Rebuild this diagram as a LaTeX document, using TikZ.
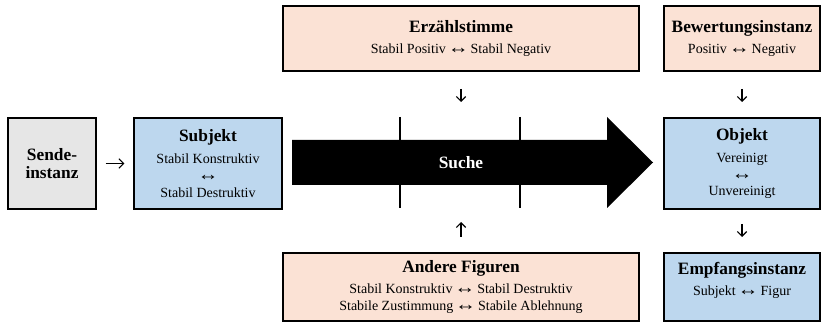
\documentclass[tikz,border=0pt]{standalone}
\usepackage{fontspec}
\setmainfont{Liberation Serif}
\usetikzlibrary{arrows.meta}

\definecolor{grau}{HTML}{E6E6E6}
\definecolor{blau}{HTML}{BDD7EE}
\definecolor{rosa}{HTML}{FBE2D5}

\newcommand{\titel}[1]{{\fontsize{13}{15}\selectfont\bfseries #1}}
\newcommand{\hin}{\kern-1.2pt\scalebox{1.5}[1.3]{↔}\kern-1.2pt}

\begin{document}
\begin{tikzpicture}[x=0.75pt,y=-0.75pt,
  kasten/.style={draw,line width=1.5pt,align=center,inner sep=2pt,
    font=\fontsize{10.5}{12.5}\selectfont},
  pfeil/.style={line width=0.8pt,-{Straight Barb[length=3.5pt,width=7pt]}}]

\useasboundingbox (0,0) rectangle (822,324);

% sende node
\node[kasten,fill=grau,minimum width=66pt,minimum height=68.25pt,
  font=\fontsize{13}{14}\selectfont\bfseries] (sende) at (52,163.5) {Sende-\\instanz};

% subjekt node
\node[kasten,fill=blau,minimum width=111pt,minimum height=68.25pt] (subj) at (208,163.5)
  {\titel{Subjekt}\\[4pt] Stabil Konstruktiv\\ \hin\\ Stabil Destruktiv};

% erzaehlstimme node
\node[kasten,fill=rosa,minimum width=267pt,minimum height=48.75pt] (erz) at (461,38.5)
  {\titel{Erzählstimme}\\[3pt] Stabil Positiv \hin{} Stabil Negativ};

% bewertungsinstanz node
\node[kasten,fill=rosa,minimum width=117pt,minimum height=48.75pt] (bew) at (742,38.5)
  {\titel{Bewertungsinstanz}\\[3pt] Positiv \hin{} Negativ};

% objekt node
\node[kasten,fill=blau,minimum width=117pt,minimum height=68.25pt] (obj) at (742,163.5)
  {\titel{Objekt}\\[4pt] Vereinigt\\ \hin\\ Unvereinigt};

% andere figuren node
\node[kasten,fill=rosa,minimum width=267pt,minimum height=51pt] (andere) at (461,287)
  {\titel{Andere Figuren}\\[3pt] Stabil Konstruktiv \hin{} Stabil Destruktiv\\
   Stabile Zustimmung \hin{} Stabile Ablehnung};

% empfangsinstanz node
\node[kasten,fill=blau,minimum width=117pt,minimum height=51pt] (empf) at (742,287)
  {\titel{Empfangsinstanz}\\[3pt] Subjekt \hin{} Figur\\ \mbox{}};

% suche arrow
\fill (292,140) -- (607,140) -- (607,117) -- (653,162.5) -- (607,208) -- (607,185)
  -- (292,185) -- cycle;
\node[text=white] (suche) at (461,162.5) {\titel{Suche}};
\draw[line width=1.5pt] (400,117) -- (400,208);
\draw[line width=1.5pt] (520,117) -- (520,208);

\draw[pfeil,shorten <=6.5pt,shorten >=6.5pt] (sende) -- (subj);
\draw[pfeil,shorten <=12.75pt,shorten >=11.25pt] (erz.south) -- (erz.south |- obj.north);
\draw[pfeil,shorten <=12.75pt,shorten >=11.25pt] (bew) -- (obj);
\draw[pfeil,shorten <=10.5pt,shorten >=11.25pt] (obj) -- (empf);
\draw[pfeil,shorten <=11.25pt,shorten >=9pt] (andere.north) -- (andere.north |- subj.south);

\end{tikzpicture}
\end{document}
